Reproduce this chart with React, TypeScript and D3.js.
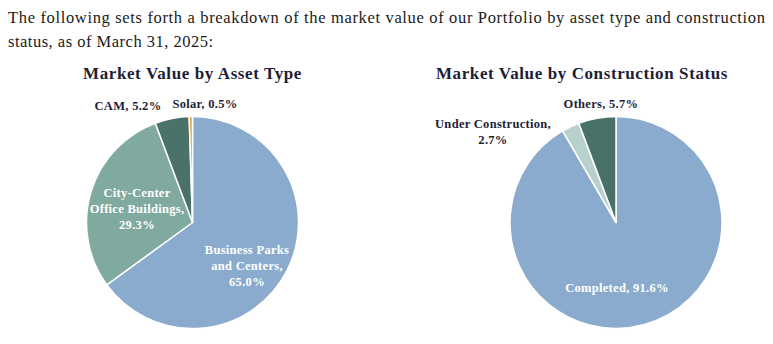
import React from "react";
import * as d3 from "d3";

const assetTypes = ["Business Parks and Centers", "City-Center Office Buildings", "CAM", "Solar"];
const assetValues = [65.0, 29.3, 5.2, 0.5];
const assetColors = ["#8aabcd", "#80a9a0", "#4a7269", "#e3a23a"];

const statusTypes = ["Completed", "Under Construction", "Others"];
const statusValues = [91.6, 2.7, 5.7];
const statusColors = ["#8aabcd", "#b9d1cd", "#48716a"];

const serif = "'Liberation Serif', 'Times New Roman', 'DejaVu Serif', serif";

function Pie({ cx, cy, r, values, colors }: { cx: number; cy: number; r: number; values: number[]; colors: string[] }) {
  const pie = d3.pie<number>().sort(null).value((d) => d);
  const arc = d3.arc<d3.PieArcDatum<number>>().innerRadius(0).outerRadius(r);
  const arcs = pie(values);
  return (
    <g transform={`translate(${cx},${cy})`}>
      {arcs.map((a, i) => (
        <path key={i} d={arc(a) || ""} fill={colors[i]} stroke="#ffffff" strokeWidth={1.5} strokeLinejoin="round" />
      ))}
    </g>
  );
}

export default function App() {
  const labelStyle = { fontFamily: serif, fontWeight: 700, fontSize: 12.5, letterSpacing: 0.3 } as const;
  const dark = "#1e1d36";
  return (
    <svg width={773} height={344} style={{ position: "absolute", left: 0, top: 0 }}>
      <rect width={773} height={344} fill="#ffffff" />
      <text x={8} y={23} fontFamily={serif} fontSize={16.5} fill="#1a1a1a" textLength={757} lengthAdjust="spacing">
        The following sets forth a breakdown of the market value of our Portfolio by asset type and construction
      </text>
      <text x={8} y={47} fontFamily={serif} fontSize={16.5} fill="#1a1a1a" letterSpacing={0.5}>
        status, as of March 31, 2025:
      </text>

      <text x={192.5} y={79} textAnchor="middle" fontFamily={serif} fontWeight={700} fontSize={17} letterSpacing={0.6} fill={dark}>
        Market Value by Asset Type
      </text>
      <text x={582} y={79} textAnchor="middle" fontFamily={serif} fontWeight={700} fontSize={17} letterSpacing={0.6} fill={dark}>
        Market Value by Construction Status
      </text>

      <Pie cx={192.5} cy={222.5} r={106} values={assetValues} colors={assetColors} />
      <Pie cx={616} cy={222.5} r={106} values={statusValues} colors={statusColors} />

      <g style={labelStyle}>
        <text x={128} y={110} textAnchor="middle" fill={dark}>{`CAM, ${assetValues[2].toFixed(1)}%`}</text>
        <text x={205} y={108} textAnchor="middle" fill={dark}>{`Solar, ${assetValues[3].toFixed(1)}%`}</text>
        <text x={137} y={197} textAnchor="middle" fill="#ffffff">City-Center</text>
        <text x={137} y={213} textAnchor="middle" fill="#ffffff">Office Buildings,</text>
        <text x={137} y={229} textAnchor="middle" fill="#ffffff">{`${assetValues[1].toFixed(1)}%`}</text>
        <text x={247} y={254} textAnchor="middle" fill="#ffffff">Business Parks</text>
        <text x={247} y={270} textAnchor="middle" fill="#ffffff">and Centers,</text>
        <text x={247} y={286} textAnchor="middle" fill="#ffffff">{`${assetValues[0].toFixed(1)}%`}</text>

        <text x={601} y={108} textAnchor="middle" fill={dark}>{`Others, ${statusValues[2].toFixed(1)}%`}</text>
        <text x={493} y={128} textAnchor="middle" fill={dark}>Under Construction,</text>
        <text x={493} y={144} textAnchor="middle" fill={dark}>{`${statusValues[1].toFixed(1)}%`}</text>
        <text x={617} y={292} textAnchor="middle" fill="#ffffff">{`Completed, ${statusValues[0].toFixed(1)}%`}</text>
      </g>
    </svg>
  );
}
